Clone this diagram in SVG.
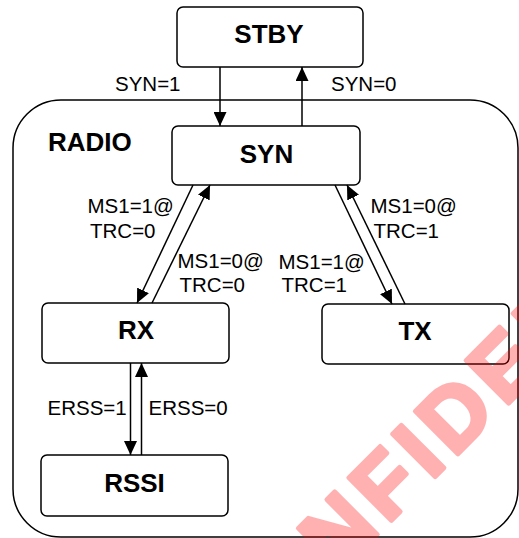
<svg xmlns="http://www.w3.org/2000/svg" width="519" height="538" viewBox="0 0 519 538">
  <style>
    .box { fill: #ffffff; stroke: #000000; stroke-width: 1.5; }
    .container { fill: none; stroke: #000000; stroke-width: 1.5; }
    .title { font-family: "Liberation Sans", Arial, sans-serif; font-weight: bold; font-size: 26px; fill: #000000; text-anchor: middle; }
    .group-title { font-family: "Liberation Sans", Arial, sans-serif; font-weight: bold; font-size: 26px; fill: #000000; }
    .label { font-family: "Liberation Sans", Arial, sans-serif; font-size: 20.5px; fill: #000000; }
    .edge { fill: none; stroke: #000000; stroke-width: 1.5; marker-end: url(#arrow); }
    .watermark { font-family: "Liberation Sans", Arial, sans-serif; font-weight: bold; font-size: 88px; letter-spacing: 8px; fill: #ff0000; stroke: #ff0000; stroke-width: 4.5; stroke-linejoin: round; stroke-linecap: round; opacity: 0.3; }
  </style>
  <defs>
    <marker id="arrow" markerUnits="userSpaceOnUse" markerWidth="14" markerHeight="13" refX="14" refY="6.5" orient="auto">
      <path d="M0,0 L14,6.5 L0,13 z" fill="#000000"/>
    </marker>
  </defs>
  <rect width="519" height="538" fill="#ffffff"/>

  <g id="radio">
    <rect class="container" x="13" y="100" width="505" height="437" rx="48" ry="48"/>
    <text class="group-title" x="48" y="151">RADIO</text>
  </g>

  <g id="stby">
    <rect class="box" x="177" y="7" width="186" height="60" rx="6"/>
    <text class="title" x="269" y="43">STBY</text>
  </g>
  <g id="syn">
    <rect class="box" x="172" y="126" width="188" height="59" rx="6"/>
    <text class="title" x="266.5" y="163">SYN</text>
  </g>
  <g id="rx">
    <rect class="box" x="42" y="303" width="187" height="60" rx="6"/>
    <text class="title" x="136" y="339">RX</text>
  </g>
  <g id="tx">
    <rect class="box" x="322" y="304" width="187" height="60" rx="6"/>
    <text class="title" x="415" y="340">TX</text>
  </g>
  <g id="rssi">
    <rect class="box" x="41" y="455" width="187" height="61" rx="6"/>
    <text class="title" x="134.5" y="492">RSSI</text>
  </g>

  <g id="connectors">
    <path class="edge" d="M220,67 L220,126"/>
    <path class="edge" d="M302,126 L302,67"/>
    <path class="edge" d="M193,185 L137,303"/>
    <path class="edge" d="M152,303 L210,185"/>
    <path class="edge" d="M335,185 L392,304"/>
    <path class="edge" d="M405,304 L347,185"/>
    <path class="edge" d="M130.5,363 L130.5,455"/>
    <path class="edge" d="M141.5,455 L141.5,363"/>
  </g>

  <g id="labels">
    <text class="label" x="115" y="91">SYN=1</text>
    <text class="label" x="331" y="91">SYN=0</text>
    <text class="label" x="87.5" y="213">MS1=1@</text>
    <text class="label" x="90" y="238">TRC=0</text>
    <text class="label" x="177.5" y="268">MS1=0@</text>
    <text class="label" x="179.5" y="292">TRC=0</text>
    <text class="label" x="278.5" y="269">MS1=1@</text>
    <text class="label" x="281.5" y="292">TRC=1</text>
    <text class="label" x="370.5" y="213">MS1=0@</text>
    <text class="label" x="373.5" y="238">TRC=1</text>
    <text class="label" x="47.5" y="415">ERSS=1</text>
    <text class="label" x="148.5" y="415">ERSS=0</text>
  </g>

  <g id="watermark">
    <text class="watermark" transform="translate(232,680) rotate(-45)" x="0" y="0">CONFIDENTIAL</text>
  </g>
</svg>
